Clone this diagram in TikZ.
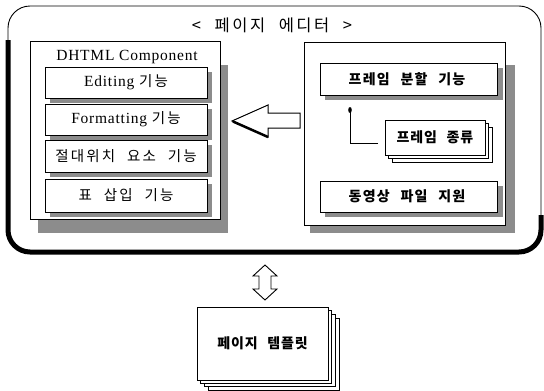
\documentclass[tikz,border=0pt]{standalone}
\usepackage{fontspec}
\setmainfont{Liberation Serif}
\newfontfamily\kr[LetterSpace=15,WordSpace=2.2]{Noto Sans CJK KR}
\newfontfamily\krb[LetterSpace=9,WordSpace=2.4]{Noto Sans CJK KR}
\newcommand{\K}[1]{{\kr\fontsize{14.5}{16}\selectfont #1}}
\newcommand{\KB}[1]{{\krb\fontsize{14}{16}\selectfont\bfseries #1}}
\usetikzlibrary{arrows.meta}
\begin{document}
\begin{tikzpicture}[x=1pt,y=-1pt,
  shadowfill/.style={fill=black!45},
  plainbox/.style={draw,line width=0.9pt,fill=white},
  txt/.style={inner sep=0pt,font=\fontsize{15.5}{17}\selectfont\addfontfeature{LetterSpace=5}},
  boldkr/.style={inner sep=0pt},
]
\useasboundingbox (0,0) rectangle (544,391);
% outer frame
\draw[line width=0.9pt,rounded corners=22pt,fill=white] (8,6) rectangle (541,252);
\draw[line width=5pt,rounded corners=22pt] (8,40) -- (8,252) -- (541,252) -- (541,215);
\node[inner sep=0pt] (title) at (272,25) {{\kr\fontsize{16.5}{18}\selectfont < 페이지 에디터 >}};

% left box
\fill[shadowfill] (38,65) rectangle (228,233);
\draw[plainbox] (30,41) rectangle (220,219);
\coordinate (leftbox) at (220,121);
\node[inner sep=0pt,anchor=center,font=\fontsize{15.5}{18}\selectfont\addfontfeature{LetterSpace=5}] (dhtml) at (127,57) {DHTML Component};
\foreach \n/\ya/\yb/\t in {ed/67/98/{Editing \K{기능}},fo/104/135/{Formatting \K{기능}},ab/140/172/{\K{절대위치 요소 기능}},ta/179/212/{\K{표 삽입 기능}}}{
  \fill[shadowfill] (50,\ya+5) rectangle (212,\yb+5);
  \draw[plainbox] (45,\ya) rectangle (207,\yb);
  \node[txt] (\n) at (126,{(\ya+\yb)/2}) {\t};
}

% right box
\fill[shadowfill] (310,65) rectangle (515,233);
\draw[plainbox] (304,42) rectangle (505,225);
\coordinate (rightbox) at (304,121);
\fill[shadowfill] (325,68) rectangle (503,100);
\draw[plainbox] (320,63) rectangle (497,95);
\node[boldkr] (split) at (407,79) {\KB{프레임 분할 기능}};
\fill[shadowfill] (325,186) rectangle (503,217);
\draw[plainbox] (320,181) rectangle (497,212);
\node[boldkr] (video) at (407,196.5) {\KB{동영상 파일 지원}};

% stacked frame kinds
\draw[plainbox] (392,127) rectangle (492,162);
\draw[plainbox] (388.5,123.5) rectangle (488.5,158.5);
\draw[plainbox] (385,120) rectangle (485,155);
\node[boldkr] (kind) at (435,137.5) {{\krb\fontsize{14}{16}\selectfont\bfseries\addfontfeature{LetterSpace=6}프레임 종류}};
\coordinate (dot) at (350,110);
\coordinate (kindin) at (378,143);
\draw[line width=0.8pt] (kindin) -| (dot);
\fill (dot) ellipse (1.8pt and 3pt);

% big hollow arrow (right box -> left box)
\draw[line width=1pt,line join=miter,fill=white]
  (232,121) -- (268,105) -- (268,113) -- (300,113) -- (300,128) -- (268,128) -- (268,137) -- cycle;
\draw[line width=2.5pt] (233,121.5) -- (268,137);

% double vertical arrow
\draw[line width=0.9pt,fill=white]
  (265,265) -- (277,276) -- (271,276) -- (271,289) -- (277,289) -- (265,300)
  -- (253,289) -- (259,289) -- (259,276) -- (253,276) -- cycle;

% stacked page templates
\draw[plainbox] (208,318) rectangle (339,390);
\draw[plainbox] (204,314) rectangle (335,386);
\draw[plainbox] (200.5,310.5) rectangle (331.5,383);
\draw[plainbox] (197,307) rectangle (328,380);
\node[boldkr] (tmpl) at (262.5,343.5) {{\krb\fontsize{14}{16}\selectfont\bfseries\addfontfeature{LetterSpace=6}페이지 템플릿}};
\end{tikzpicture}
\end{document}
